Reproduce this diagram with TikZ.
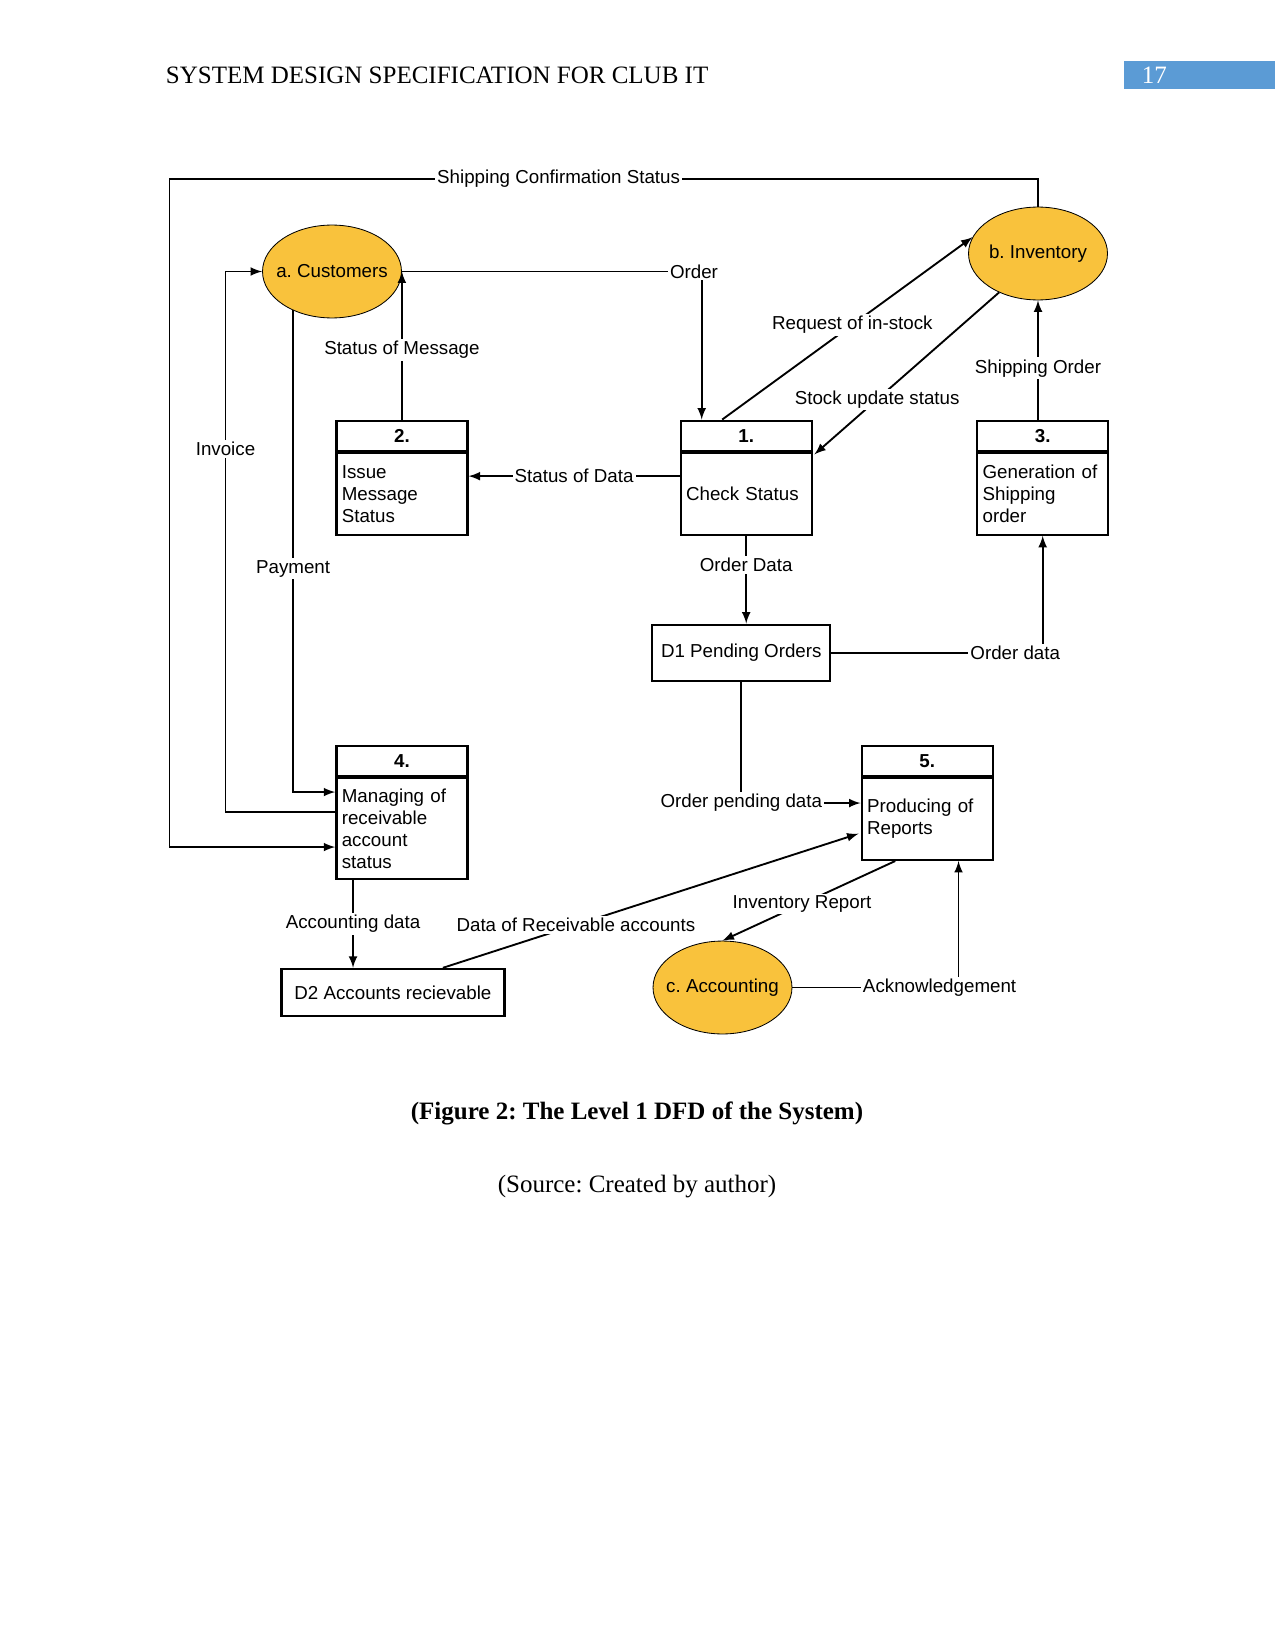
\documentclass[tikz,border=0pt]{standalone}
\usepackage{fontspec}
\setmainfont{Liberation Serif}
\newfontfamily\dfdfont{Liberation Sans}
\usetikzlibrary{arrows}
\usetikzlibrary{calc}
\usetikzlibrary{positioning}
\usetikzlibrary{shapes.geometric}
\definecolor{extfill}{HTML}{F9C23C}
\definecolor{pageblue}{HTML}{5B9BD5}
\frenchspacing

\begin{document}
\begin{tikzpicture}[x=0.48pt,y=-0.48pt,>=latex,line width=0.9pt,
  ext node/.style={ellipse,fill=extfill,draw,line width=0.4pt,minimum width=66.7pt,minimum height=44.6pt,inner sep=0pt,font=\dfdfont\fontsize{9}{10.6}\selectfont},
  proc head/.style={rectangle,draw,line width=1.1pt,minimum width=62.9pt,minimum height=14.4pt,inner sep=0pt,font=\dfdfont\bfseries\fontsize{9}{10.6}\selectfont},
  proc body/.style={rectangle,draw,line width=1.1pt,text width=57.7pt,inner xsep=2.6pt,inner ysep=0pt,minimum height=39.2pt,align=left,font=\dfdfont\fontsize{9}{10.6}\selectfont},
  store node/.style={rectangle,draw,line width=1.1pt,inner sep=0pt,font=\dfdfont\fontsize{9}{10.6}\selectfont},
  flow label/.style={fill=white,inner sep=1pt,font=\dfdfont\fontsize{9}{10.6}\selectfont}]

\useasboundingbox (0,0) rectangle (1275,1651);

% running head
\node[anchor=base west,inner sep=0pt,font=\fontsize{12}{14}\selectfont] (runhead) at (165,83.3) {SYSTEM DESIGN SPECIFICATION FOR CLUB IT};
\fill[pageblue] (1124,61) rectangle (1275,89);
\node[anchor=base west,inner sep=0pt,text=white,font=\fontsize{12}{14}\selectfont] (pageno) at (1141,83.3) {17};

% external entities
\node[ext node] (cust) at (332,271.5) {\makebox[0pt]{a. Customers}};
\node[ext node] (inv) at (1038,253.5) {\makebox[0pt]{b. Inventory}};
\node[ext node] (acc) at (722.5,987.5) {\makebox[0pt]{c. Accounting}};

% processes
\foreach \n/\x/\y in {1/746.2/435.7,2/401.9/435.7,3/1042.7/435.7,4/401.9/760.9,5/927.2/760.9}{
  \node[proc head] (h\n) at (\x,\y) {\n.};
}
\node[proc body,below=0pt of h1] (p1) {Check Status};
\node[proc body,below=0pt of h2] (p2) {Issue\\Message\\Status};
\node[proc body,below=0pt of h3] (p3) {Generation of\\Shipping\\order};
\node[proc body,below=0pt of h4,minimum height=48.5pt] (p4) {Managing of\\receivable\\account\\status};
\node[proc body,below=0pt of h5] (p5) {Producing of\\Reports};

% data stores
\node[store node,minimum width=85.4pt,minimum height=27pt] (d1) at (741.3,652.85) {D1 Pending Orders};
\node[store node,minimum width=107pt,minimum height=22.6pt] (d2) at (392.9,992.5) {D2 Accounts recievable};

\coordinate (shipc) at ($(cust.center)+(-162.5,-92.5)$);
\coordinate (invc) at ($(cust.center)+(-106.5,0)$);
\coordinate (acd) at ($(p4.south west)+(17.8,0)$);

% flows
\draw[->] (inv.north) |- node[flow label,pos=0.776]{Shipping Confirmation Status} (shipc) |- ($(p4.north west)+(0,70)$);
\draw[->] ($(p4.north west)+(0,35.3)$) -| node[flow label,pos=0.836]{Invoice} (invc) -- (cust.west);
\draw[->] (cust.225) |- node[flow label,pos=0.268]{Payment} ($(p4.north west)+(0,15)$);
\draw[->] (cust.east) -| node[flow label,pos=0.5,xshift=-3.7pt]{Order} ($(h1.north)+(-44.5,0)$);
\draw[->] (h2.north) -- node[flow label,pos=0.47]{Status of Message} (h2.north |- cust.east);
\draw[->] ($(p1.north west)+(0,24.3)$) -- node[flow label]{Status of Data} ($(p2.north east)+(0,24.3)$);
\draw[->] ($(h1.north)+(-24,0)$) -- node[flow label,pos=0.52]{Request of in-stock} (inv.166);
\draw[->] (inv.225) -- node[flow label,pos=0.66]{Stock update status} ($(p1.north east)+(1.5,2.6)$);
\draw[->] (h3.north -| inv.south) -- node[flow label,pos=0.43]{Shipping Order} (inv.south);
\draw[->] (p1.south) -- node[flow label,pos=0.33]{Order Data} (p1.south |- d1.north);
\draw[->] (d1.east) -| node[flow label,pos=0.435]{Order data} (p3.south);
\draw[->] (d1.south) |- node[flow label]{Order pending data} ($(p5.north west)+(0,26)$);
\draw[->] ($(d2.north)+(50,0)$) -- node[flow label,pos=0.32]{Data of Receivable accounts} ($(p5.north west)+(-2,56.6)$);
\draw[->] (acd) -- node[flow label]{Accounting data} (acd |- d2.north);
\draw[->] ($(p5.south west)+(34.7,0)$) -- node[flow label,pos=0.54]{Inventory Report} (acc.north);
\draw[->] (acc.east) -| node[flow label,pos=0.443]{Acknowledgement} ($(p5.south west)+(98,0)$);

% caption
\node[font=\bfseries\fontsize{12}{14}\selectfont] (figcap) at (637,1113) {(Figure 2: The Level 1 DFD of the System)};
\node[font=\fontsize{12}{14}\selectfont] (srccap) at (637,1186.5) {(Source: Created by author)};
\end{tikzpicture}
\end{document}
